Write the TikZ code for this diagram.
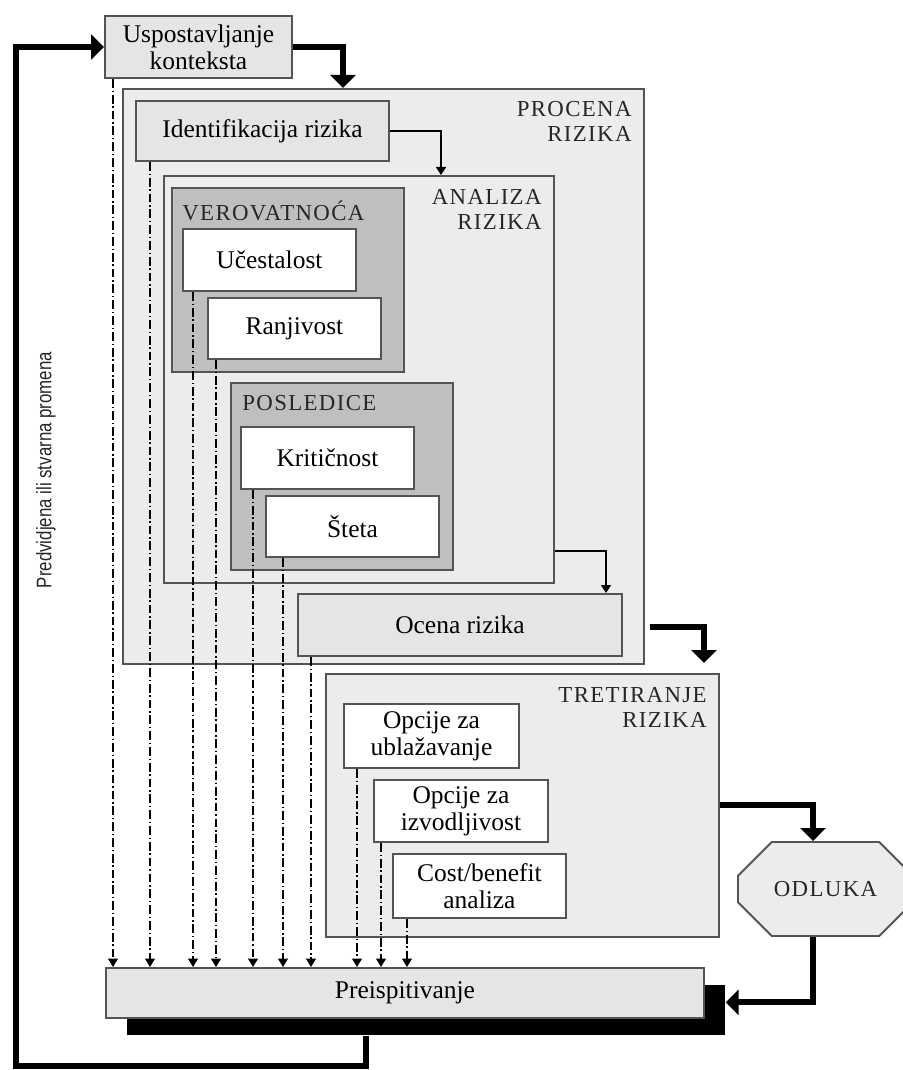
\documentclass[tikz,border=0pt]{standalone}
\usepackage{fontspec}
\setmainfont{Liberation Serif}
\newfontfamily\capsfont[LetterSpace=6]{Liberation Serif}
\newfontfamily\sidefont{Liberation Sans}
\usetikzlibrary{arrows.meta,shapes.misc}
\definecolor{edge}{gray}{0.33}
\definecolor{panelgray}{gray}{0.925}
\definecolor{stepgray}{gray}{0.9}
\definecolor{groupgray}{gray}{0.75}
\def\pxl{0.02cm}

\begin{document}
\begin{tikzpicture}[
  x=\pxl, y=-\pxl,
  sz/.style 2 args={minimum width=#1*\pxl,minimum height=#2*\pxl},
  panel/.style={draw=edge,fill=panelgray,line width=1.1pt,anchor=north west,inner sep=0pt},
  group/.style={panel,fill=groupgray},
  stepbox/.style={panel,fill=stepgray,align=center,font=\fontsize{14.5}{15.5}\selectfont},
  item/.style={stepbox,fill=white},
  tag/.style={inner sep=0pt,align=right,text=black!85,font=\capsfont\fontsize{13}{14.5}\selectfont},
  flow/.style={line width=3.4pt,-{Triangle[width=0.5cm,length=0.26cm]}},
  link/.style={line width=0.7pt,-{Triangle[width=0.2cm,length=0.16cm]}},
  review/.style={line width=0.75pt,dash pattern=on 5pt off 1.6pt on 0.8pt off 1.6pt,
    -{Triangle[width=0.2cm,length=0.17cm]}}]
\useasboundingbox (0,0) rectangle (902,1070);

% Uspostavljanje konteksta
\node[stepbox,sz={187}{62}] (kontekst) at (104,15) {Uspostavljanje\\konteksta};

% Procena rizika
\node[panel,sz={521}{575}] (procena) at (122,88) {};
\node[tag,anchor=north east] (procenatag) at ([shift={(-13,13)}]procena.north east) {PROCENA\\RIZIKA};
\node[stepbox,sz={253}{60}] (identif) at (135,100) {Identifikacija rizika};

% Analiza rizika
\node[panel,sz={390}{407}] (analiza) at (163,175) {};
\node[tag,anchor=north east] (analizatag) at ([shift={(-13,14)}]analiza.north east) {ANALIZA\\RIZIKA};
\node[group,sz={232}{184}] (verov) at (171,187) {};
\node[tag,anchor=north west] (verovtag) at ([shift={(11,14)}]verov.north west) {VEROVATNOĆA};
\node[item,sz={173}{62}] (ucest) at (182,228) {Učestalost};
\node[item,sz={173}{61}] (ranj) at (207,297) {Ranjivost};
\node[group,sz={222}{187}] (posled) at (230,382) {};
\node[tag,anchor=north west] (posledtag) at ([shift={(12,13)}]posled.north west) {POSLEDICE};
\node[item,sz={173}{62}] (krit) at (240,426) {Kritičnost};
\node[item,sz={173}{61}] (steta) at (265,495) {Šteta};
\node[stepbox,sz={324}{62}] (ocena) at (297,593) {Ocena rizika};

% Tretiranje rizika
\node[panel,sz={393}{263}] (tretir) at (325,673) {};
\node[tag,anchor=north east] (tretirtag) at ([shift={(-13,14)}]tretir.north east) {TRETIRANJE\\RIZIKA};
\node[item,sz={175}{64}] (ublaz) at (343,703) {Opcije za\\ublažavanje};
\node[item,sz={174}{62}] (izvod) at (373,779) {Opcije za\\izvodljivost};
\node[item,sz={173}{64}] (cost) at (392,853) {Cost/benefit\\analiza};

% Odluka
\node[chamfered rectangle,chamfered rectangle xsep=50*\pxl,chamfered rectangle ysep=26*\pxl,
  draw=edge,fill=panelgray,line width=1.1pt,inner sep=0pt,sz={175}{94},
  text=black!85,font=\capsfont\fontsize{13}{14.5}\selectfont] (odluka) at (825.5,889) {ODLUKA};

% Preispitivanje with its shadow
\node[fill=black,anchor=north west,inner sep=0pt,sz={598}{50}] (preispsh) at (127,985) {};
\node[stepbox,sz={598}{50}] (preisp) at (105,967) {Preispitivanje};

\node[rotate=90,inner sep=0pt,text=black!85,font=\sidefont\fontsize{12}{14}\selectfont] (promena)
  at (46,470) {\scalebox{0.8}[1]{Predvidjena ili stvarna promena}};

% main flow
\draw[flow] (kontekst.east) -| (343,0 |- procena.north);
\draw[link] (identif.east) -| (441,0 |- analiza.north);
\draw[link] ([shift={(0,-33)}]analiza.south east) -| (606,0 |- ocena.north);
\draw[flow,shorten >=10*\pxl] ([shift={(5,-38)}]procena.south east) -| (704,0 |- tretir.north);
\draw[flow] (tretir.east) -| (813,0 |- odluka.north);
\draw[flow] (813,0 |- odluka.south) |- ([shift={(0,-8)}]preispsh.east);
\draw[flow] (366,0 |- preispsh.south) -- (366,1066) -| (16,0 |- kontekst.west) -- (kontekst.west);

% review lines down to Preispitivanje
\foreach \n/\x in {kontekst/113,identif/150,ucest/193,ranj/216,krit/253,steta/283,
  ocena/311,ublaz/357,izvod/381,cost/407}
  \draw[review] (\x,0 |- \n.south) -- (\x,0 |- preisp.north);
\end{tikzpicture}
\end{document}
